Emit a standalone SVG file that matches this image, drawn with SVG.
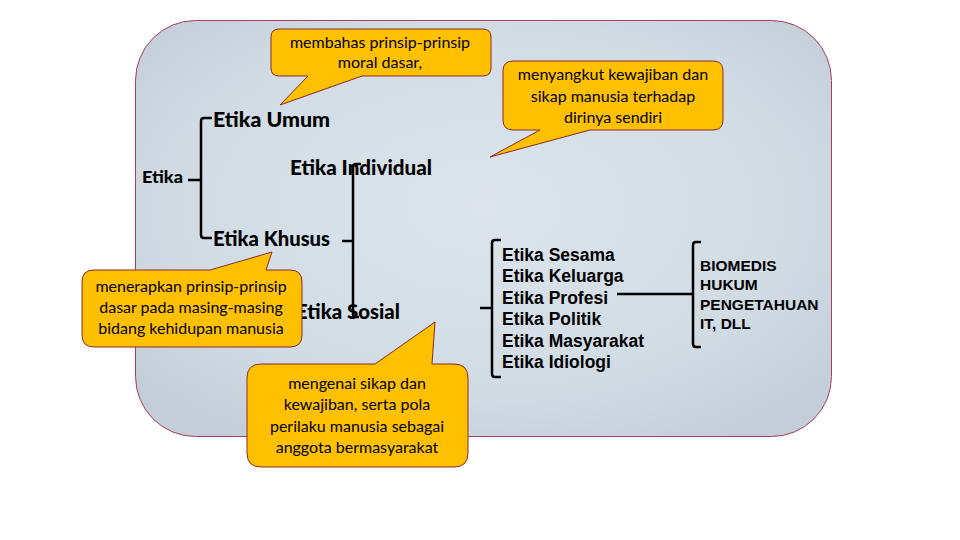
<svg xmlns="http://www.w3.org/2000/svg" width="960" height="540" viewBox="0 0 960 540">
<defs>
<radialGradient id="bg" cx="0.5" cy="0.45" r="0.65">
<stop offset="0" stop-color="#dce5ed"/>
<stop offset="0.7" stop-color="#d1dbe4"/>
<stop offset="1" stop-color="#c3ceda"/>
</radialGradient>
<style>
.lbl{font-family:Lato,"Open Sans","DejaVu Sans",sans-serif;font-weight:900;fill:#000}
.arl{font-family:"Liberation Sans",Arial,sans-serif;font-weight:bold;fill:#000}
.co{fill:#ffc000;stroke:#8b2a2a;stroke-width:1}
.cot{font-family:Lato,"Open Sans","DejaVu Sans",sans-serif;font-size:16px;fill:#000;text-anchor:middle}
.br{fill:none;stroke:#000;stroke-width:2.5;stroke-linecap:butt}
</style>
</defs>
<rect width="960" height="540" fill="#ffffff"/>
<rect id="panel" x="135.5" y="20.5" width="696" height="416" rx="60" ry="60" fill="url(#bg)" stroke="#a8405a" stroke-width="1"/>

<g id="labels">
<g id="n-etika"><text class="lbl" x="142" y="183" font-size="17" textLength="41" lengthAdjust="spacingAndGlyphs">Etika</text></g>
<g id="n-umum"><text class="lbl" x="213" y="127" font-size="20" textLength="117" lengthAdjust="spacingAndGlyphs">Etika Umum</text></g>
<g id="n-individual"><text class="lbl" x="290" y="175" font-size="20" textLength="142" lengthAdjust="spacingAndGlyphs">Etika Individual</text></g>
<g id="n-khusus"><text class="lbl" x="213" y="246" font-size="20" textLength="117" lengthAdjust="spacingAndGlyphs">Etika Khusus</text></g>
<g id="n-sosial"><text class="lbl" x="296" y="319" font-size="20" textLength="104" lengthAdjust="spacingAndGlyphs">Etika Sosial</text></g>
<g id="n-list" class="arl" font-size="17.5">
<text x="502" y="261">Etika Sesama</text>
<text x="502" y="282">Etika Keluarga</text>
<text x="502" y="303.5">Etika Profesi</text>
<text x="502" y="325">Etika Politik</text>
<text x="502" y="346.5">Etika Masyarakat</text>
<text x="502" y="368">Etika Idiologi</text>
</g>
<g id="n-profesi-list" class="arl" font-size="15.5">
<text x="700" y="271">BIOMEDIS</text>
<text x="700" y="290">HUKUM</text>
<text x="700" y="309.5">PENGETAHUAN</text>
<text x="700" y="328.5">IT, DLL</text>
</g>
</g>

<g id="connectors">
<path class="br" d="M212,118 H204 Q201,118 201,121 V235 Q201,238 204,238 H212 M188,180 H201"/>
<path class="br" d="M361,164 H356 Q353,164 353,167 V314 Q353,317 356,317 H359 M342,241 H353"/>
<path class="br" d="M501,240 H495 Q492,240 492,243 V374 Q492,377 495,377 H501 M480,308 H492"/>
<path class="br" d="M701,242 H696 Q693,242 693,245 V344 Q693,347 696,347 H701 M617,294 H693"/>
</g>

<g id="callout-umum">
<path class="co" d="M279,29 H483 Q491,29 491,37 V68 Q491,76 483,76 H362 L280,105 L308,76 H279 Q271,76 271,68 V37 Q271,29 279,29 Z"/>
<text class="cot" x="380" y="48">membahas prinsip-prinsip</text>
<text class="cot" x="380" y="68">moral dasar,</text>
</g>
<g id="callout-individual">
<path class="co" d="M513,61 H713 Q723,61 723,71 V120 Q723,130 713,130 H590 L490,157 L540,130 H513 Q503,130 503,120 V71 Q503,61 513,61 Z"/>
<text class="cot" x="613" y="80">menyangkut kewajiban dan</text>
<text class="cot" x="613" y="102">sikap manusia terhadap</text>
<text class="cot" x="613" y="123">dirinya sendiri</text>
</g>
<g id="callout-khusus">
<path class="co" d="M94,270 H210 L272,252 L266,270 H290 Q302,270 302,282 V335 Q302,347 290,347 H94 Q82,347 82,335 V282 Q82,270 94,270 Z"/>
<text class="cot" x="191" y="292">menerapkan prinsip-prinsip</text>
<text class="cot" x="191" y="313">dasar pada masing-masing</text>
<text class="cot" x="191" y="334">bidang kehidupan manusia</text>
</g>
<g id="callout-sosial">
<path class="co" d="M261,364 H375 L435,322 L432,364 H454 Q468,364 468,378 V453 Q468,467 454,467 H261 Q247,467 247,453 V378 Q247,364 261,364 Z"/>
<text class="cot" x="357" y="389">mengenai sikap dan</text>
<text class="cot" x="357" y="410">kewajiban, serta pola</text>
<text class="cot" x="357" y="432">perilaku manusia sebagai</text>
<text class="cot" x="357" y="453">anggota bermasyarakat</text>
</g>
</svg>
